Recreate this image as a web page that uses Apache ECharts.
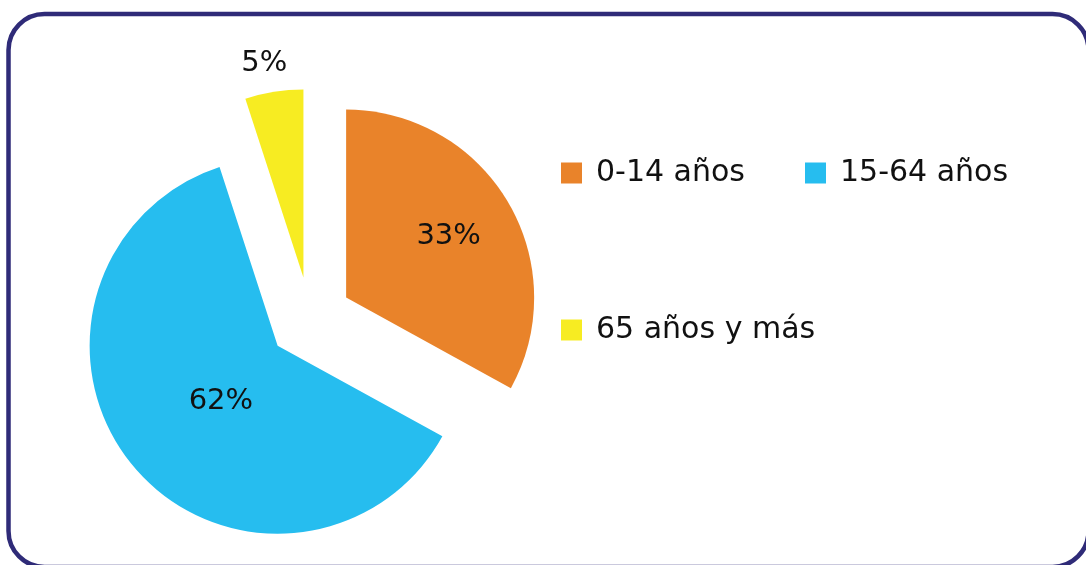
<!DOCTYPE html>
<html>
<head>
<meta charset="utf-8">
<script src="https://cdn.jsdelivr.net/npm/echarts@6/dist/echarts.min.js"></script>
<style>
  html, body { margin: 0; padding: 0; background: #fff; }
  #chart { width: 1086px; height: 565px; }
</style>
</head>
<body>
<div id="chart"></div>
<script>
// grupos de edad y su porcentaje
const categorias = ["0-14 años", "15-64 años", "65 años y más"];
const valores = [33, 62, 5];
const colores = ["#E9832A", "#26BDEF", "#F7EC22"];

const fuente = "DejaVu Sans";

var chartDom = document.getElementById("chart");
var myChart = echarts.init(chartDom);

// desplazamiento de cada etiqueta respecto a su posición por defecto
var ajusteEtiqueta = [
  [19, -12],
  [18, -6],
  [-24, -118],
];

var datos = categorias.map((nombre, i) => {
  return {
    name: nombre,
    value: valores[i],
    selected: true,
    itemStyle: { color: colores[i] },
  };
});

// una leyenda por elemento para colocarlas como en el original
var posLeyenda = [
  { left: 561, top: 158 },
  { left: 805, top: 158 },
  { left: 561, top: 315 },
];

var leyendas = categorias.map((nombre, i) => {
  return {
    data: [nombre],
    left: posLeyenda[i].left,
    top: posLeyenda[i].top,
    icon: "rect",
    itemWidth: 21,
    itemHeight: 21,
    selectedMode: false,
    padding: 0,
    textStyle: {
      fontFamily: fuente,
      fontSize: 30,
      color: "#111",
      padding: [0, 0, 0, 9],
    },
  };
});

var option = {
  animation: false,
  legend: leyendas,
  graphic: [
    {
      type: "rect",
      shape: { x: 8.5, y: 14, width: 1080, height: 553, r: 36 },
      style: { fill: "none", stroke: "#2F2B78", lineWidth: 4.5 },
      z: 100,
    },
  ],
  series: [
    {
      name: "Edad",
      type: "pie",
      center: [310, 319],
      radius: 188,
      startAngle: 90,
      clockwise: true,
      selectedMode: "multiple",
      selectedOffset: 42,
      avoidLabelOverlap: false,
      label: {
        show: true,
        position: "inside",
        formatter: "{d}%",
        fontFamily: fuente,
        fontSize: 29,
        color: "#111",
      },
      labelLine: { show: false },
      labelLayout: function (params) {
        var a = ajusteEtiqueta[params.dataIndex];
        return { dx: a[0], dy: a[1] };
      },
      emphasis: { disabled: true },
      data: datos,
    },
  ],
};

option && myChart.setOption(option);
</script>
</body>
</html>
